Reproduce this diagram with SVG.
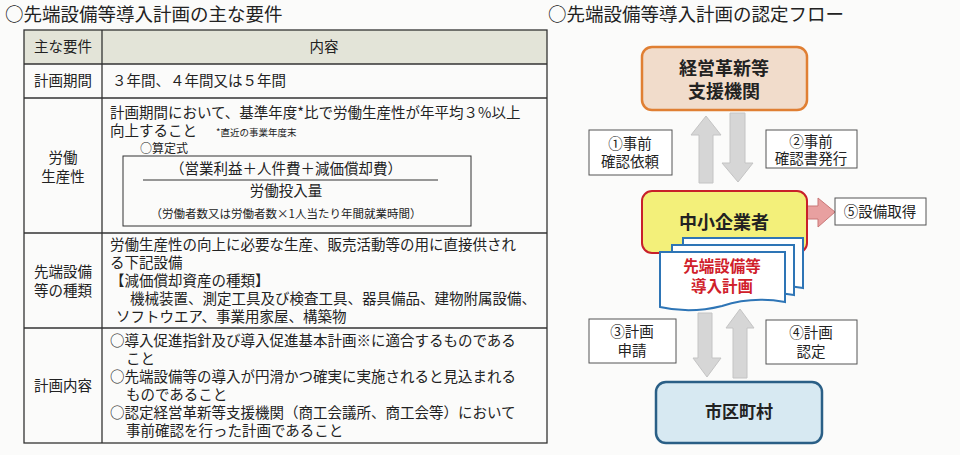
<svg xmlns="http://www.w3.org/2000/svg" width="960" height="455" viewBox="0 0 960 455">
<style>
text{font-family:"Noto Sans CJK JP","Noto Sans CJK SC",sans-serif;fill:#222}
.t{font-size:14.5px}
.s{font-size:11.5px}
.c{text-anchor:middle}
.h{font-size:18.5px}
.b{font-weight:bold}
.cell{fill:none;stroke:#333;stroke-width:1.3}
.lab{fill:#fff;stroke:#555;stroke-width:1}
.ga{fill:#d6d6d6;stroke:#c4c4c4}
</style>
<rect width="960" height="455" fill="#fbfbfa"/>
<text class="h" x="5" y="21">○先端設備等導入計画の主な要件</text>
<text class="h" x="548" y="21">○先端設備等導入計画の認定フロー</text>
<g id="table">
<rect x="24" y="30" width="523" height="34" fill="#e3e4d8"/>
<rect class="cell" x="24" y="30" width="523" height="413"/>
<line class="cell" x1="102" y1="30" x2="102" y2="443"/>
<line class="cell" x1="24" y1="64" x2="547" y2="64"/>
<line class="cell" x1="24" y1="98" x2="547" y2="98"/>
<line class="cell" x1="24" y1="233" x2="547" y2="233"/>
<line class="cell" x1="24" y1="328" x2="547" y2="328"/>
<text class="t c" x="63" y="52">主な要件</text>
<text class="t c" x="324" y="52">内容</text>
<text class="t c" x="63" y="86">計画期間</text>
<text class="t" x="112" y="86">３年間、４年間又は５年間</text>
<text class="t c" x="63" y="163">労働</text>
<text class="t c" x="63" y="182">生産性</text>
<text class="t" x="110" y="118">計画期間において、基準年度*比で労働生産性が年平均３%以上</text>
<text class="t" x="110" y="136">向上すること<tspan font-size="9.5">　　*直近の事業年度末</tspan></text>
<text x="140" y="153" font-size="12">○算定式</text>
<rect x="123" y="156" width="348" height="70" fill="none" stroke="#333"/>
<text class="t c" x="286" y="174">（営業利益＋人件費＋減価償却費）</text>
<line x1="143" y1="180" x2="438" y2="180" stroke="#333"/>
<text class="t c" x="286" y="196">労働投入量</text>
<text class="s c" x="286" y="218">（労働者数又は労働者数×1人当たり年間就業時間）</text>
<text class="t c" x="63" y="277">先端設備</text>
<text class="t c" x="63" y="296">等の種類</text>
<text class="t" x="110" y="250">労働生産性の向上に必要な生産、販売活動等の用に直接供され</text>
<text class="t" x="110" y="268">る下記設備</text>
<text class="t" x="110" y="286">【減価償却資産の種類】</text>
<text class="t" x="130" y="304">機械装置、測定工具及び検査工具、器具備品、建物附属設備、</text>
<text class="t" x="116" y="322">ソフトウエア、事業用家屋、構築物</text>
<text class="t c" x="63" y="391">計画内容</text>
<text class="t" x="110" y="346">○導入促進指針及び導入促進基本計画※に適合するものである</text>
<text class="t" x="126" y="364">こと</text>
<text class="t" x="110" y="382">○先端設備等の導入が円滑かつ確実に実施されると見込まれる</text>
<text class="t" x="126" y="400">ものであること</text>
<text class="t" x="110" y="418">○認定経営革新等支援機関（商工会議所、商工会等）において</text>
<text class="t" x="126" y="436">事前確認を行った計画であること</text>
</g>
<g id="connectors">
<polygon class="ga" points="699,183 713,183 713,135 721,135 706,116 691,135 699,135"/>
<polygon class="ga" points="730,113 745,113 745,163 753,163 738,182 722,163 730,163"/>
<polygon class="ga" points="698,313 712,313 712,358 721,358 707,377 693,358 698,358"/>
<polygon class="ga" points="733,378 747,378 747,328 754,328 740,309 726,328 733,328"/>
<polygon points="793,206 818,206 818,198 835,212 818,227 818,219 793,219" fill="#e8a0a0" stroke="#c97777"/>
</g>
<g id="shien">
<rect x="642" y="47" width="165" height="63" rx="10" fill="#f1dccb" stroke="#e07f33" stroke-width="2.5"/>
<text class="c b" x="724" y="75" font-size="18">経営革新等</text>
<text class="c b" x="724" y="98" font-size="18">支援機関</text>
</g>
<g id="label1"><rect class="lab" x="589" y="130" width="83" height="45"/>
<text class="t c" x="630" y="149">①事前</text><text class="t c" x="630" y="167">確認依頼</text></g>
<g id="label2"><rect class="lab" x="766" y="130" width="91" height="38"/>
<text class="t c" x="811" y="147">②事前</text><text class="t c" x="811" y="164">確認書発行</text></g>
<g id="chusho">
<rect x="642" y="191" width="165" height="62" rx="10" fill="#f3f07a" stroke="#c8202a" stroke-width="2"/>
<text class="c b" x="724" y="229" font-size="18">中小企業者</text>
</g>
<g id="label5"><rect class="lab" x="835" y="198" width="91" height="27"/>
<text class="t c" x="880" y="217">⑤設備取得</text></g>
<g id="plan">
<path d="M683,238 H803 V288 Q770,282 740,292 Q712,300 683,294 Z" fill="#fff" stroke="#2e75b6" stroke-width="2"/>
<path d="M672,245 H794 V295 Q760,289 730,299 Q700,307 672,301 Z" fill="#fff" stroke="#2e75b6" stroke-width="2"/>
<path d="M660,252 H785 V302 Q752,296 722,306 Q690,314 660,307 Z" fill="#fff" stroke="#2e75b6" stroke-width="2"/>
<text class="c b" x="722" y="272" font-size="15.5" style="fill:#d0202a">先端設備等</text>
<text class="c b" x="722" y="292" font-size="15.5" style="fill:#d0202a">導入計画</text>
</g>
<g id="label3"><rect class="lab" x="589" y="319" width="87" height="44"/>
<text class="t c" x="632" y="337">③計画</text><text class="t c" x="632" y="356">申請</text></g>
<g id="label4"><rect class="lab" x="766" y="320" width="91" height="44"/>
<text class="t c" x="811" y="338">④計画</text><text class="t c" x="811" y="357">認定</text></g>
<g id="city">
<rect x="656" y="382" width="166" height="61" rx="10" fill="#d7e9f2" stroke="#2a5f86" stroke-width="2.5"/>
<text class="c b" x="739" y="418" font-size="17">市区町村</text>
</g>
</svg>
